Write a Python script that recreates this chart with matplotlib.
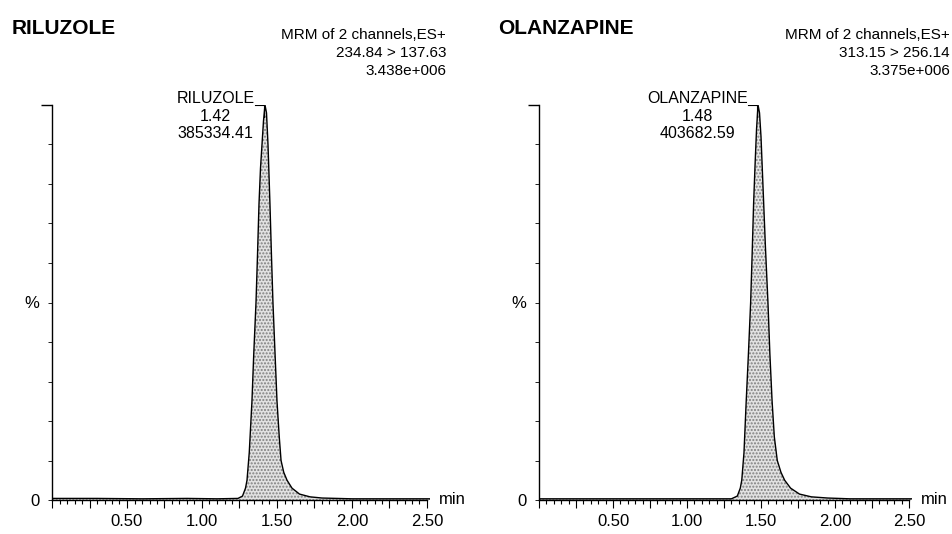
import matplotlib.pyplot as plt
from matplotlib.ticker import MultipleLocator, FuncFormatter

plt.rcParams['font.family'] = ['Liberation Sans', 'DejaVu Sans']

# peak profiles (time in min, intensity in %)
ril_t = [0.00, 0.30, 0.60, 0.90, 1.10, 1.24, 1.27, 1.29, 1.30, 1.315, 1.333,
         1.345, 1.36, 1.37, 1.38, 1.39, 1.40, 1.41, 1.42, 1.43, 1.44, 1.453,
         1.463, 1.473, 1.487, 1.50, 1.515, 1.527, 1.545, 1.567, 1.60, 1.65,
         1.72, 1.80, 2.00, 2.52]
ril_y = [0.4, 0.4, 0.3, 0.4, 0.3, 0.4, 1, 3, 5, 12, 25,
         37, 50, 62, 75, 84, 90, 96, 100, 98, 90, 75,
         62, 50, 37, 25, 16, 10, 7, 5, 3, 1.5,
         0.8, 0.5, 0.3, 0.3]

olz_t = [0.00, 0.30, 0.60, 0.90, 1.10, 1.30, 1.34, 1.36, 1.37, 1.385, 1.40,
         1.415, 1.43, 1.44, 1.45, 1.46, 1.47, 1.48, 1.49, 1.50, 1.515, 1.53,
         1.547, 1.56, 1.575, 1.59, 1.61, 1.635, 1.66, 1.70, 1.76, 1.84,
         1.95, 2.10, 2.52]
olz_y = [0.3, 0.3, 0.3, 0.3, 0.3, 0.3, 1, 3, 5, 12, 25,
         37, 50, 62, 75, 85, 94, 100, 98, 92, 78, 64,
         50, 37, 25, 16, 10, 7, 5, 3, 1.5, 0.8,
         0.5, 0.3, 0.3]

names = ['RILUZOLE', 'OLANZAPINE']
rts = [1.42, 1.48]
areas = ['385334.41', '403682.59']
transitions = ['234.84 > 137.63', '313.15 > 256.14']
maxima = ['3.438e+006', '3.375e+006']

W, H = 952, 534
fig = plt.figure(figsize=(W / 100, H / 100), dpi=100)

# axes boxes in pixels: left edge, px per min
boxes = [(52, 150), (539, 148)]
traces = [(ril_t, ril_y), (olz_t, olz_y)]
title_x = [12, 498]
header_right = [446, 950]


def fmt(v, pos):
    if v > 0.01 and abs(v / 0.5 - round(v / 0.5)) < 1e-6:
        return '%.2f' % v
    return ''


for i in range(2):
    x0, ppm = boxes[i]
    ax = fig.add_axes([x0 / W, 34 / H, 2.52 * ppm / W, 395 / H])
    t, y = traces[i]
    ax.fill_between(t, y, 0, facecolor='#e2e2e2', edgecolor='#808080',
                    hatch='.....', linewidth=0)
    ax.plot(t, y, color='black', lw=1.0)
    ax.set_xlim(0, 2.52)
    ax.set_ylim(0, 100)
    for s in ['top', 'right']:
        ax.spines[s].set_visible(False)
    ax.spines['bottom'].set_bounds(0, 2.5)
    for s in ['left', 'bottom']:
        ax.spines[s].set_linewidth(1.0)

    ax.xaxis.set_major_locator(MultipleLocator(0.25))
    ax.xaxis.set_minor_locator(MultipleLocator(0.05))
    ax.xaxis.set_major_formatter(FuncFormatter(fmt))
    ax.tick_params(axis='x', which='major', length=6, width=0.8, labelsize=12, pad=4)
    ax.tick_params(axis='x', which='minor', length=3, width=0.8)

    ax.set_yticks(range(0, 100, 10))
    ax.set_yticklabels(['0', '', '', '', '', '%', '', '', '', ''])
    ax.set_yticks([100], minor=True)
    ax.tick_params(axis='y', which='major', length=3, width=0.6, labelsize=12, pad=6)
    ax.tick_params(axis='y', which='minor', length=8, width=1.0)

    ax.text(2.58, 0, 'min', ha='left', va='center', fontsize=12)

    # peak label and leader
    rt = rts[i]
    ax.plot([rt - 0.065, rt - 0.005, rt - 0.005], [100, 100, 97],
            color='black', lw=0.8)
    ax.text(rt - 0.07, 103.5, '%s\n%.2f\n%s' % (names[i], rt, areas[i]),
            ha='right', va='top', multialignment='center', fontsize=11.5,
            linespacing=1.2)

    fig.text(title_x[i] / W, 1 - 28 / H, names[i], fontsize=15,
             fontweight='bold', va='center')
    fig.text(header_right[i] / W, 1 - 35 / H, 'MRM of 2 channels,ES+',
             ha='right', va='center', fontsize=11)
    fig.text(header_right[i] / W, 1 - 53 / H, transitions[i],
             ha='right', va='center', fontsize=11)
    fig.text(header_right[i] / W, 1 - 71 / H, maxima[i],
             ha='right', va='center', fontsize=11)

fig.savefig('out.png', dpi=100)
